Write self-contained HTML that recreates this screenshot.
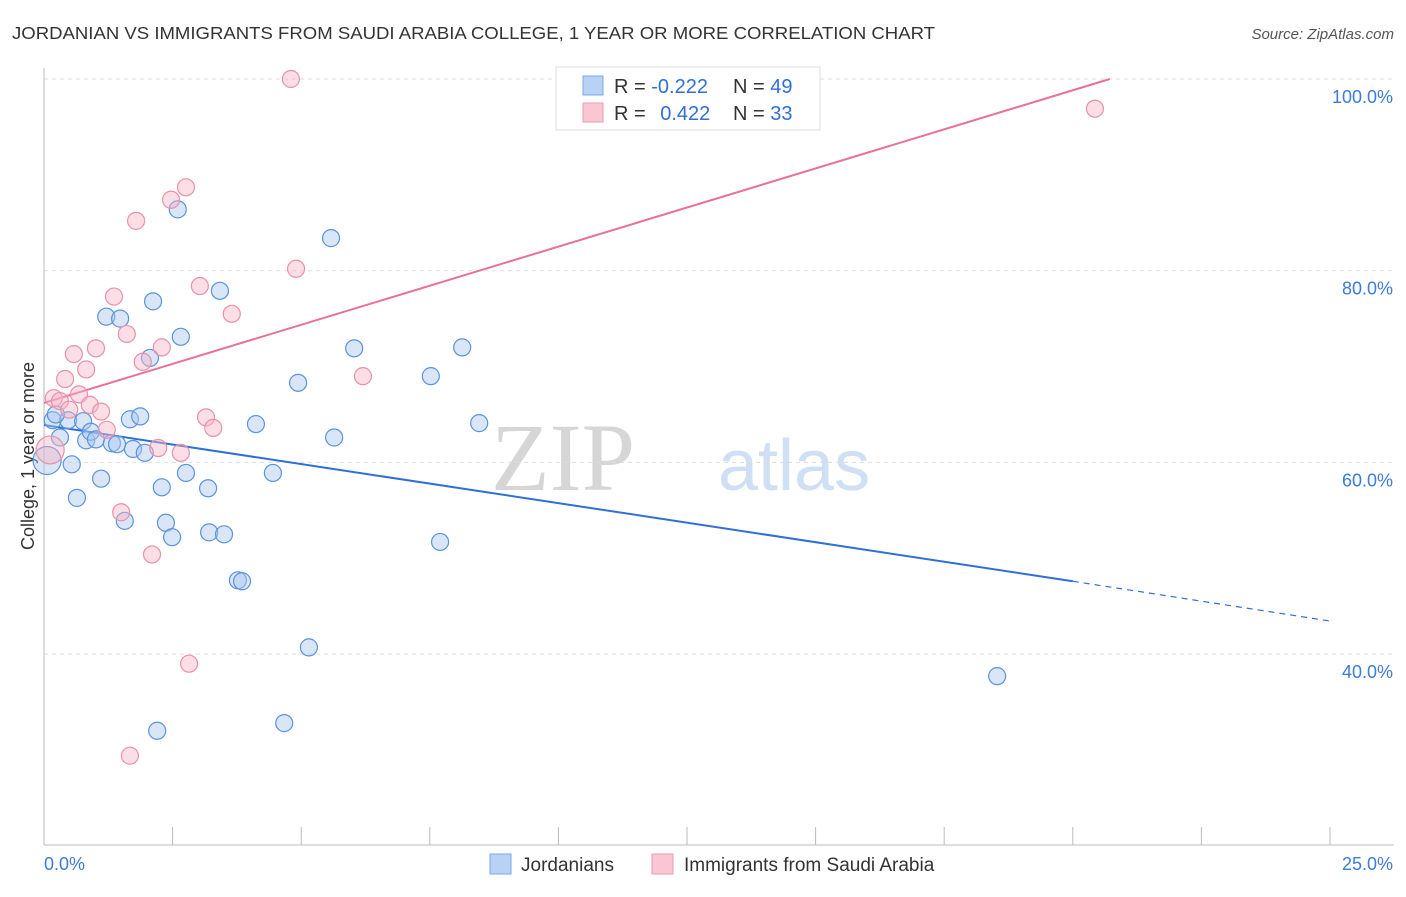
<!DOCTYPE html>
<html><head><meta charset="utf-8"><style>
body{margin:0;background:#fff;font-family:"Liberation Sans",sans-serif;}
</style></head><body>
<svg id="c" width="1406" height="892" xmlns="http://www.w3.org/2000/svg">
<text x="12" y="39" font-size="17.5" fill="#333" textLength="923" lengthAdjust="spacingAndGlyphs">JORDANIAN VS IMMIGRANTS FROM SAUDI ARABIA COLLEGE, 1 YEAR OR MORE CORRELATION CHART</text>
<text x="1394" y="39" font-size="15" fill="#555" font-style="italic" text-anchor="end">Source: ZipAtlas.com</text>
<text x="635" y="490" font-size="96" fill="#d6d6d6" text-anchor="end" font-family="Liberation Serif">ZIP</text>
<text x="718" y="490" font-size="72" fill="#cfe0f5">atlas</text>
<text transform="translate(34,456) rotate(-90)" font-size="18" fill="#333" text-anchor="middle">College, 1 year or more</text>
<g id="grid"></g><g id="axes"></g><g id="lines"></g><g id="pts"></g>
<g>
<rect x="556" y="67" width="264" height="63" fill="#fff" stroke="#ddd"/>
<rect x="583" y="76" width="20" height="19" fill="#b7d2f5" stroke="#7aa8e6"/>
<rect x="583" y="103" width="20" height="19" fill="#fac6d4" stroke="#eb9ab2"/>
<text x="614" y="93" font-size="20" fill="#333">R = <tspan fill="#2f6fd6">-0.222</tspan></text>
<text x="733" y="93" font-size="20" fill="#333">N = <tspan fill="#2f6fd6">49</tspan></text>
<text x="614" y="120" font-size="20" fill="#333">R = <tspan fill="#2f6fd6" dx="9">0.422</tspan></text>
<text x="733" y="120" font-size="20" fill="#333">N = <tspan fill="#2f6fd6">33</tspan></text>
</g>
<g>
<rect x="490" y="854" width="21" height="20" fill="#b7d2f5" stroke="#7aa8e6"/>
<text x="521" y="871" font-size="19" fill="#333">Jordanians</text>
<rect x="652" y="854" width="21" height="20" fill="#fac6d4" stroke="#eb9ab2"/>
<text x="684" y="871" font-size="19" fill="#333">Immigrants from Saudi Arabia</text>
</g>
</svg>
<script>
const xTicks=[0,2.5,5,7.5,10,12.5,15,17.5,20,22.5,25];
const yTicks=[40,60,80,100];
const yTickLabels=["40.0%","60.0%","80.0%","100.0%"];
const blueX=[0.17,0.06,0.31,0.47,0.54,0.64,0.76,0.82,0.91,1.01,1.11,1.21,1.32,1.42,1.48,1.57,1.67,1.73,1.87,1.96,2.06,2.12,2.29,2.37,2.49,2.60,2.66,2.76,3.19,3.21,3.42,3.50,3.77,3.85,4.12,4.45,4.67,4.94,5.15,5.58,5.64,6.03,7.52,7.70,8.13,8.46,18.53,2.20,0.23];
const blueY=[64.4,60.2,62.6,64.4,59.8,56.3,64.3,62.3,63.2,62.4,58.3,75.2,62.0,61.9,75.0,53.9,64.5,61.4,64.8,61.0,70.9,76.8,57.4,53.7,52.2,86.4,73.1,58.9,57.3,52.7,77.9,52.5,47.7,47.6,64.0,58.9,32.8,68.3,40.7,83.4,62.6,71.9,69.0,51.7,72.0,64.1,37.7,32.0,65.0];
const pinkX=[4.80,20.43,2.76,2.47,1.79,4.90,3.03,1.36,3.65,1.61,2.29,1.01,0.58,1.92,0.82,6.20,0.41,0.68,0.19,0.31,0.89,0.49,1.11,3.15,3.29,1.22,2.22,2.66,1.50,2.10,2.82,1.67,0.12];
const pinkY=[100.0,96.9,88.7,87.4,85.2,80.2,78.4,77.3,75.5,73.4,72.0,71.9,71.3,70.5,69.7,69.0,68.7,67.1,66.7,66.4,66.0,65.5,65.3,64.7,63.6,63.4,61.5,61.0,54.8,50.4,39.0,29.4,61.3];
const blueTrend=[63.9,47.6,43.45]; // at x=0, 20, 25
const pinkTrend=[66.2,100,20.72]; // y at 0, y end, x end
const sx=v=>44+v/25*1286, sy=v=>79+(100-v)*9.585;
const NS="http://www.w3.org/2000/svg";
function mk(p,t,a){const e=document.createElementNS(NS,t);for(const k in a)e.setAttribute(k,a[k]);document.getElementById(p).appendChild(e);return e;}
yTicks.forEach((v,i)=>{
 const l=mk('grid','line',{x1:44,x2:1394,y1:sy(v),y2:sy(v),stroke:'#ddd','stroke-dasharray':'4,4'});
 
 
 const t=mk('axes','text',{x:1393,y:sy(v)+24,'font-size':18,fill:'#3d7bd9','text-anchor':'end'});
 t.textContent=yTickLabels[i];
 
 
});
const ax=mk('axes','line',{x1:44,x2:1394,y1:845,y2:845,stroke:'#bbb'});


const ay=mk('axes','line',{x1:44,x2:44,y1:68,y2:845,stroke:'#bbb'});


xTicks.forEach(v=>{const t=mk('axes','line',{x1:sx(v),x2:sx(v),y1:827,y2:845,stroke:'#bbb'});
 
 });
const x0=mk('axes','text',{x:44,y:870,'font-size':18,fill:'#3d7bd9'});x0.textContent='0.0%';


const x1=mk('axes','text',{x:1393,y:870,'font-size':18,fill:'#3d7bd9','text-anchor':'end'});x1.textContent='25.0%';


let b=mk('lines','line',{x1:sx(0),y1:sy(blueTrend[0]),x2:sx(20),y2:sy(blueTrend[1]),stroke:'#2f6fd6','stroke-width':2});


b=mk('lines','line',{x1:sx(20),y1:sy(blueTrend[1]),x2:sx(25),y2:sy(blueTrend[2]),stroke:'#2f6fd6','stroke-width':1.2,'stroke-dasharray':'6,5'});


const p=mk('lines','line',{x1:sx(0),y1:sy(pinkTrend[0]),x2:sx(pinkTrend[2]),y2:sy(pinkTrend[1]),stroke:'#e8709a','stroke-width':2});


function dots(X,Y,fill,stroke,name,bigIdx){X.forEach((x,i)=>{
 const c=mk('pts','circle',{cx:sx(x),cy:sy(Y[i]),r:i===bigIdx?14:8.5,fill:fill,'fill-opacity':0.45,stroke:stroke,'stroke-width':1.2});
 
 });}
dots(blueX,blueY,'#a9c8f0','#5b93dc','jordanians-point',1);
dots(pinkX,pinkY,'#f7b5c8','#e891aa','saudi-point',32);
</script>
</body></html>
